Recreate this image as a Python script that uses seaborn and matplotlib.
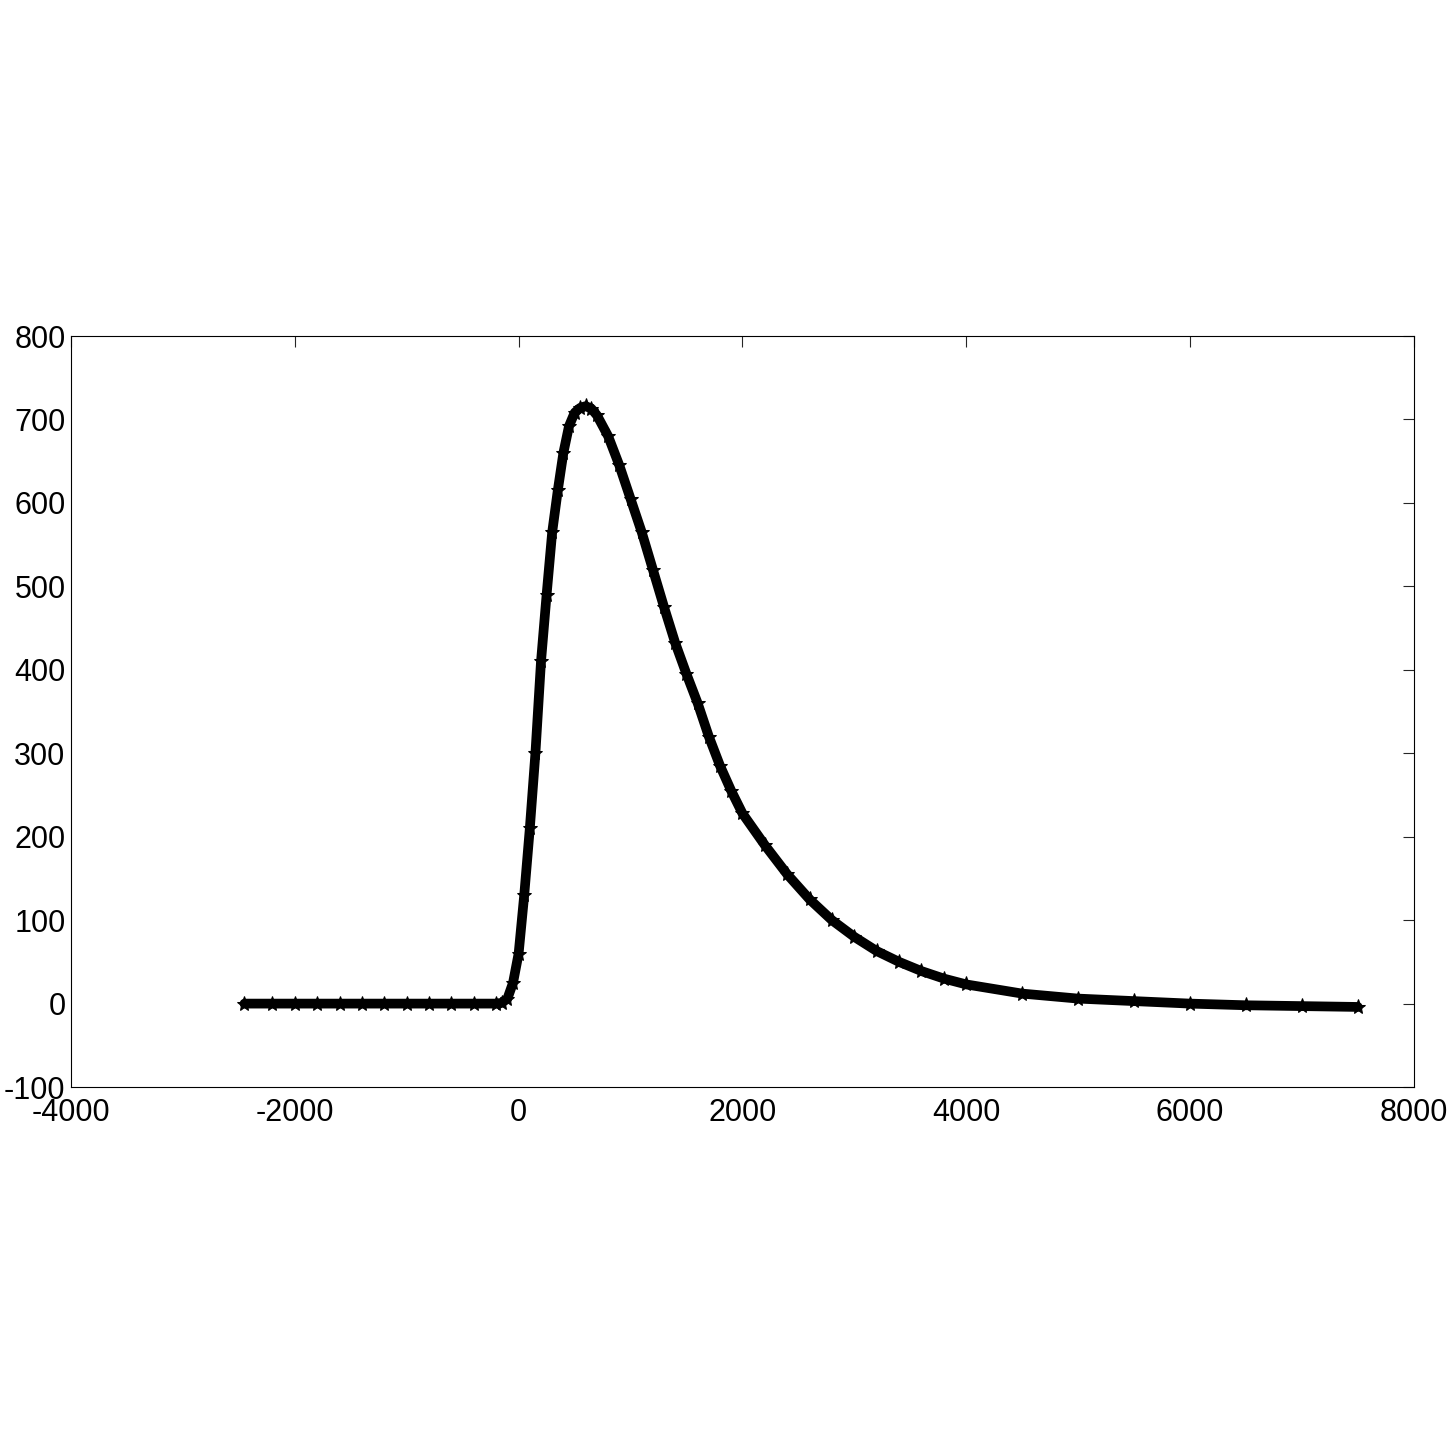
import matplotlib
matplotlib.use("Agg")
import matplotlib.pyplot as plt
import seaborn as sns
import pandas as pd

time = [-2450, -2200, -2000, -1800, -1600, -1400, -1200, -1000, -800, -600, -400, -200, -150,
        -100, -50, 0, 50, 100, 150, 200, 250, 300, 350, 400, 450, 500, 550, 600, 650, 700, 800,
        900, 1000, 1100, 1200, 1300, 1400, 1500, 1600, 1700, 1800, 1900, 2000, 2200, 2400, 2600,
        2800, 3000, 3200, 3400, 3600, 3800, 4000, 4500, 5000, 5500, 6000, 6500, 7000, 7500]
signal = [0, 0, 0, 0, 0, 0, 0, 0, 0, 0, 0, 0, 1,
          6, 25, 60, 130, 210, 300, 410, 490, 565, 615, 660, 692, 708, 714, 716, 713, 705, 680,
          645, 605, 565, 520, 475, 432, 395, 360, 320, 285, 255, 228, 190, 155, 125,
          100, 80, 63, 50, 39, 30, 23, 12, 6, 3, 0, -2, -3, -4]

df = pd.DataFrame({"t": time, "v": signal})

sns.set_style("white")
plt.rcParams["font.family"] = ["Liberation Sans", "DejaVu Sans"]
plt.rcParams["axes.unicode_minus"] = False

fig = plt.figure(figsize=(14.56, 14.56), dpi=100)
ax = fig.add_axes([0.0488, 0.2534, 0.9222, 0.5158])
sns.lineplot(data=df, x="t", y="v", color="black", linewidth=7, marker="*",
             markersize=11, markeredgecolor="black", ax=ax)
ax.set_xlim(-4000, 8000)
ax.set_ylim(-100, 800)
ax.set_xticks(range(-4000, 8001, 2000))
ax.set_yticks(range(-100, 801, 100))
ax.set_xlabel("")
ax.set_ylabel("")
ax.tick_params(direction="in", length=8, width=0.8, labelsize=22, labelcolor="black",
               top=True, right=True)
ax.tick_params(axis="x", pad=8)
ax.tick_params(axis="y", pad=4)
for s in ax.spines.values():
    s.set_linewidth(0.8)
    s.set_color("black")
fig.savefig("out.png", dpi=100)
